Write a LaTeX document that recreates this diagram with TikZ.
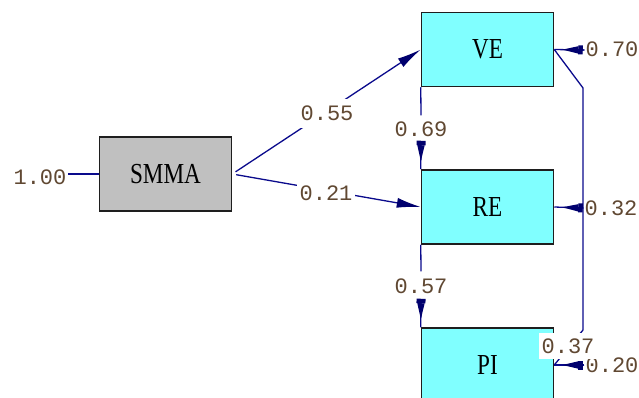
\documentclass[tikz,border=0pt]{standalone}
\usepackage{fontspec}
\usetikzlibrary{arrows.meta}
\newfontfamily\numfont{Liberation Mono}
\newfontfamily\boxfont{Liberation Serif}
\definecolor{navy}{RGB}{10,10,140}
\definecolor{tipnavy}{RGB}{0,0,110}
\definecolor{boxcyan}{RGB}{128,255,255}
\definecolor{boxgray}{RGB}{192,192,192}
\definecolor{numcol}{RGB}{96,72,50}
\definecolor{edgecol}{RGB}{30,30,30}
\newcommand{\bxlabel}[1]{\scalebox{0.8}[1]{#1}}
\begin{document}
\begin{tikzpicture}[x=1pt,y=-1pt,
  varbox/.style={draw=edgecol, line width=1.5pt, minimum width=132pt, minimum height=74pt, inner sep=0pt, font=\boxfont\fontsize{29}{30}\selectfont},
  obs/.style={varbox, fill=boxcyan},
  lat/.style={varbox, fill=boxgray},
  num/.style={font=\numfont\fontsize{22}{24}\selectfont, text=numcol, text height=14pt, text depth=0pt, inner xsep=1pt, inner ysep=7pt},
  gapnum/.style={num, fill=white},
  conn/.style={draw=navy, line width=1.3pt},
  pathtip/.style={-{Latex[length=24pt,width=10pt,color=tipnavy]}},
  errtip/.style={-{Square[length=4.5pt,width=9pt,color=tipnavy]Triangle[length=16pt,width=7pt,color=tipnavy]}, shorten >=8pt},
]
\useasboundingbox (0,0) rectangle (639,398);
\fill[white] (0,0) rectangle (639,398);

% boxes
\node[lat] (SMMA) at (165.5,174) {\bxlabel{SMMA}};
\node[obs] (VE) at (487.5,49.5) {\bxlabel{VE}};
\node[obs] (RE) at (487.5,207) {\bxlabel{RE}};
\node[obs] (PI) at (487.5,365) {\bxlabel{PI}};

% waypoints of the covariance line
\coordinate (k1) at (583,88);
\coordinate (k2) at (583,330);

% error labels
\node[num] (l100) at (40,177) {1.00};
\node[num] (e70) at (612,50) {0.70};
\node[num] (e32) at (611,208) {0.32};
\node[num] (e20) at (612,365) {0.20};

% straight connectors
\draw[conn] (SMMA.west) -- (SMMA.west -| l100.east);
\draw[conn, pathtip, shorten <=4pt] (SMMA.east) -- (VE.west);
\draw[conn, pathtip, shorten <=4pt] (SMMA.east) -- (RE.west);
\draw[conn] (VE.east) -- (k1) -- (k2) -- (PI.east);

% labels that cut the lines
\node[gapnum, inner ysep=7.5pt] (l55) at (327,114) {0.55};
\node[gapnum, inner xsep=3pt, inner ysep=6pt] (l21) at (326,193) {0.21};
\node[gapnum, inner xsep=2.6pt, inner ysep=6pt] (l37) at (568,346) {0.37};
\node[gapnum, inner ysep=7.5pt] (l69) at (421,130) {0.69};
\node[gapnum, inner ysep=7.5pt] (l57) at (421,286) {0.57};

% vertical paths
\draw[conn] (VE.south west) -- (l69.north);
\draw[conn] (l69.south) -- (RE.north west);
\draw[conn, errtip] (l69.south) -- (RE.north west);
\draw[conn] (RE.south west) -- (l57.north);
\draw[conn] (l57.south) -- (PI.north west);
\draw[conn, errtip] (l57.south) -- (PI.north west);

% error arrows
\draw[conn] (e70.west) -- (VE.east);
\draw[conn, errtip] (e70.west) -- (VE.east);
\draw[conn] (e32.west) -- (RE.east);
\draw[conn, errtip] (e32.west) -- (RE.east);
\draw[conn] (e20.west) -- (PI.east);
\draw[conn, errtip] (e20.west) -- (PI.east);
\end{tikzpicture}
\end{document}
